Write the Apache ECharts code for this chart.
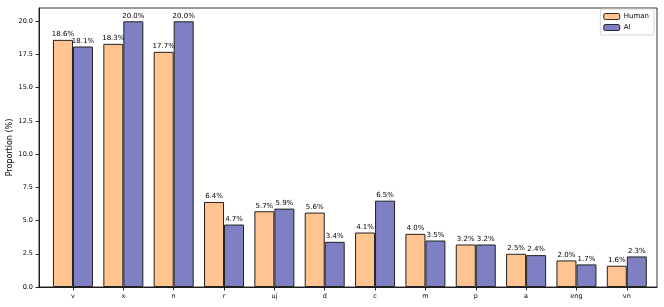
<!DOCTYPE html>
<html><head><meta charset="utf-8">
<script src="https://cdn.jsdelivr.net/npm/echarts@6/dist/echarts.min.js"></script>
<style>html,body{margin:0;padding:0;background:#fff}#c{width:664px;height:307px}</style>
</head><body><div id="c"></div>
<script>
const categories = ['v','x','n','r','uj','d','c','m','p','a','eng','vn'];
const human = [18.6,18.3,17.7,6.4,5.7,5.6,4.1,4.0,3.2,2.5,2.0,1.6];
const ai = [18.1,20.0,20.0,4.7,5.9,3.4,6.5,3.5,3.2,2.4,1.7,2.3];
const yTicks = [0,2.5,5,7.5,10,12.5,15,17.5,20];

const font = 'DejaVu Sans';
const chart = echarts.init(document.getElementById('c'), null, {renderer:'canvas'});
const lbl = {show:true, position:'top', distance:2, fontSize:7, fontFamily:font, color:'#000',
  formatter: p => p.value[1].toFixed(1) + '%'};
chart.setOption({
  animation:false,
  grid:{left:39, right:7, top:8, bottom:20, show:true, borderColor:'#000', borderWidth:0.8, containLabel:false, outerBoundsMode:'none'},
  legend:{right:10, top:9, orient:'vertical', itemWidth:16, itemHeight:6, itemGap:4, padding:[4,5,4,3],
    borderColor:'#ccc', borderWidth:0.8, borderRadius:2, textStyle:{fontFamily:font, fontSize:7, color:'#000', padding:[0,0,0,-1]},
    data:[{name:'Human', itemStyle:{borderColor:'#000', borderWidth:0.8}},{name:'AI', itemStyle:{borderColor:'#000', borderWidth:0.8}}]},
  xAxis:{type:'value', min:-0.675, max:11.6, splitLine:{show:false},
    axisLine:{show:true, onZero:false, lineStyle:{color:'#000', width:0.8}},
    axisTick:{show:true, length:3.5, customValues: categories.map((c,i)=>i), lineStyle:{color:'#000', width:0.8}},
    axisLabel:{customValues: categories.map((c,i)=>i), formatter: v => categories[Math.round(v)] ?? '',
      fontFamily:font, fontSize:6.5, color:'#000', margin:6}},
  yAxis:{type:'value', min:0, max:21, interval:2.5, splitLine:{show:false},
    name:'Proportion (%)', nameLocation:'middle', nameGap:25, nameMoveOverlap:false,
    nameTextStyle:{fontFamily:font, fontSize:8, color:'#000'},
    axisLine:{show:true, onZero:false, lineStyle:{color:'#000', width:0.8}},
    axisTick:{show:true, length:3.5, customValues:yTicks, lineStyle:{color:'#000', width:0.8}},
    axisLabel:{customValues:yTicks, formatter: v => v.toFixed(1), fontFamily:font, fontSize:6.5, color:'#000', margin:6}},
  series:[
    {name:'Human', type:'bar', barWidth:20, barGap:'0%', data: human.map((v,i)=>[i,v]),
      itemStyle:{color:'#ffc48f', borderColor:'#222', borderWidth:1}, label:lbl},
    {name:'AI', type:'bar', barWidth:20, barGap:'0%', data: ai.map((v,i)=>[i,v]),
      itemStyle:{color:'#7f7fc4', borderColor:'#222', borderWidth:1}, label:lbl}
  ]
});
</script></body></html>
